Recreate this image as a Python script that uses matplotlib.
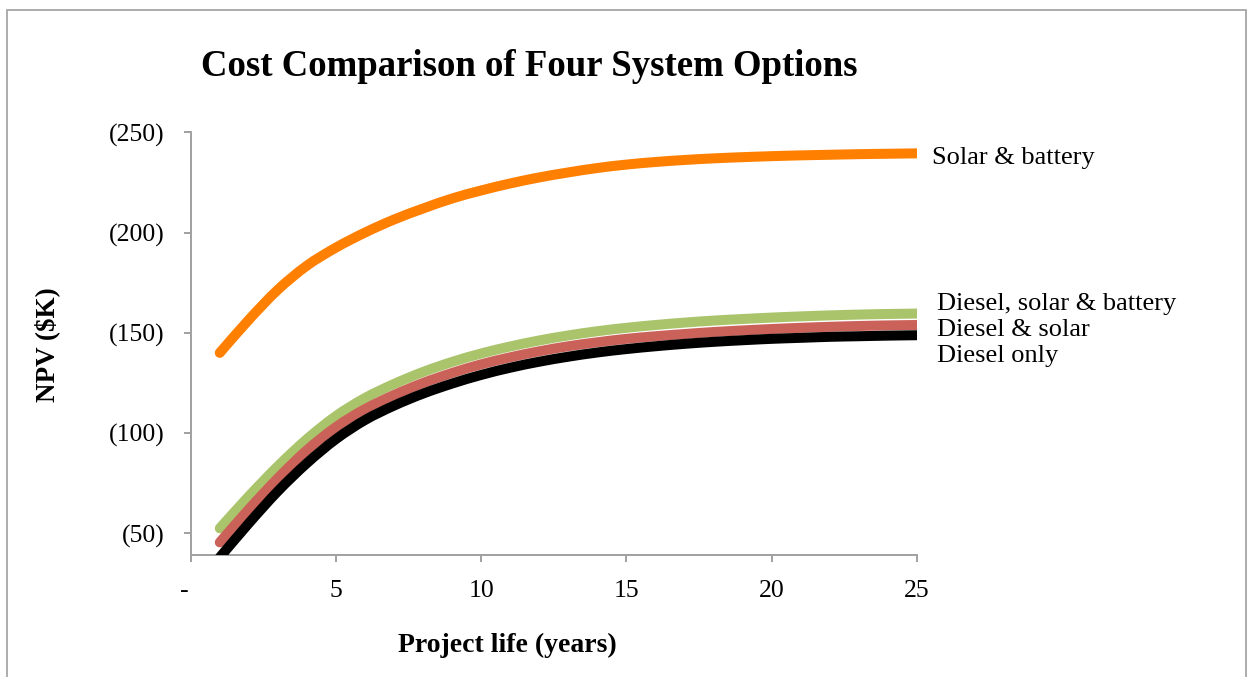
import matplotlib
matplotlib.use("Agg")
import numpy as np
import matplotlib.pyplot as plt
from matplotlib.patches import Rectangle, PathPatch
from matplotlib.path import Path
from matplotlib.ticker import FixedLocator, FuncFormatter

# Project life in years
years = list(range(1, 26))

# Net present cost ($K) of each system option by project life
solar_battery = [140, 156.5, 171.5, 183.5, 192.5, 200, 206.5, 212, 217, 221,
                 224.5, 227.5, 230, 232.2, 233.9, 235.2, 236.2, 237, 237.6, 238.1,
                 238.5, 238.8, 239.1, 239.3, 239.5]
diesel_solar_battery = [52.5, 68.5, 83.5, 97, 108.5, 117.5, 124.5, 130.5, 135.5, 139.7,
                        143.2, 146.2, 148.7, 150.8, 152.5, 153.9, 155.1, 156.1, 156.9, 157.6,
                        158.2, 158.7, 159.1, 159.4, 159.6]
diesel_solar = [45.5, 62, 77.5, 91.5, 103, 112, 119, 125, 130, 134.3,
                137.8, 140.8, 143.3, 145.3, 147, 148.3, 149.4, 150.4, 151.2, 151.9,
                152.5, 153, 153.4, 153.7, 153.9]
diesel_only = [38, 55, 71, 85, 97, 106.5, 113.7, 119.7, 124.7, 129,
               132.6, 135.6, 138.1, 140.2, 141.9, 143.3, 144.5, 145.5, 146.3, 147,
               147.5, 148, 148.3, 148.6, 148.8]

series_names = ["Solar & battery", "Diesel, solar & battery", "Diesel & solar", "Diesel only"]
series_values = [solar_battery, diesel_solar_battery, diesel_solar, diesel_only]
series_colors = ["#FF7F00", "#A9C46B", "#CB6259", "#000000"]
# label offsets (pixels) from each line's last point
label_offsets = [(15, -5), (20, 10), (20, -5), (20, -21)]

x_ticks = [0, 5, 10, 15, 20, 25]
y_ticks = [50, 100, 150, 200, 250]

SERIF = ["Liberation Serif", "DejaVu Serif"]
plt.rcParams["font.family"] = SERIF


def smooth_path(xs, ys):
    """Smoothed line through every point (Catmull-Rom segments as cubic Beziers)."""
    p = np.column_stack([xs, ys]).astype(float)
    verts = [p[0]]
    codes = [Path.MOVETO]
    n = len(p)
    for i in range(n - 1):
        p0 = p[i - 1] if i > 0 else p[i]
        p1, p2 = p[i], p[i + 1]
        p3 = p[i + 2] if i + 2 < n else p[i + 1]
        c1 = p1 + (p2 - p0) / 6.0
        c2 = p2 - (p3 - p1) / 6.0
        verts += [c1, c2, p2]
        codes += [Path.CURVE4] * 3
    return Path(verts, codes)


W, H = 1253, 677
fig = plt.figure(figsize=(W / 100, H / 100), dpi=100)
fig.patch.set_facecolor("white")

# outer chart frame
fig.add_artist(Rectangle((7 / W, -0.05), (1246 - 7) / W, 1.05 - 10 / H,
                         transform=fig.transFigure, fill=False,
                         edgecolor="#A6A6A6", linewidth=1.3))

ax = fig.add_axes([190.7 / W, 1 - 555 / H, (917 - 190.7) / W, (555 - 132.3) / H])
ax.set_xlim(0, 25)
ax.set_ylim(39.2, 250)

# draw order: green, red, black, then orange
order = [1, 2, 3, 0]
for z, i in enumerate(order):
    patch = PathPatch(smooth_path(years, series_values[i]), facecolor="none",
                      edgecolor=series_colors[i], linewidth=7.2,
                      capstyle="round", joinstyle="round", zorder=3 + z)
    ax.add_patch(patch)

for name, vals, (dx, dy) in zip(series_names, series_values, label_offsets):
    ax.annotate(name, xy=(years[-1], vals[-1]), xytext=(dx * 0.72, dy * 0.72),
                textcoords="offset points", ha="left", va="center",
                fontsize=19, color="black", annotation_clip=False)

for side in ("top", "right"):
    ax.spines[side].set_visible(False)
for side in ("left", "bottom"):
    ax.spines[side].set_color("#A0A0A0")
    ax.spines[side].set_linewidth(1.4)

ax.xaxis.set_major_locator(FixedLocator(x_ticks))
ax.yaxis.set_major_locator(FixedLocator(y_ticks))
ax.xaxis.set_major_formatter(FuncFormatter(lambda v, p: "-  " if v == 0 else f"{v:g}"))
ax.yaxis.set_major_formatter(FuncFormatter(lambda v, p: f"({v:g})"))
ax.tick_params(axis="both", direction="out", length=5, width=1.4, color="#A0A0A0",
               labelsize=18.5, labelcolor="black")
ax.tick_params(axis="y", pad=14)
ax.tick_params(axis="x", pad=13)

fig.text(529 / W, 1 - 67 / H, "Cost Comparison of Four System Options",
         ha="center", va="center", fontsize=26.5, fontweight="bold")
fig.text(507 / W, 1 - 645 / H, "Project life (years)",
         ha="center", va="center", fontsize=20, fontweight="bold")
fig.text(47 / W, 1 - 345 / H, "NPV ($K)", rotation=90,
         ha="center", va="center", fontsize=19.5, fontweight="bold")

fig.savefig("out.png", dpi=100, facecolor="white")
